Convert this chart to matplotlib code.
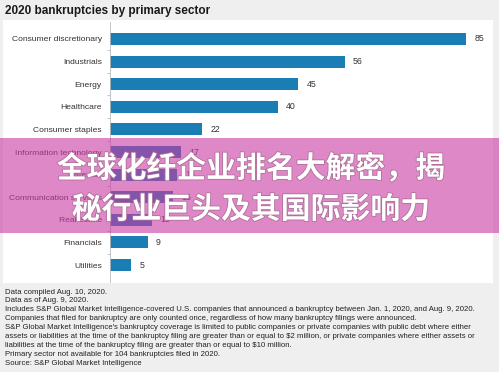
import matplotlib
matplotlib.use('Agg')
import matplotlib.pyplot as plt
from matplotlib.patches import Rectangle
import matplotlib.patheffects as pe

sectors = ['Consumer discretionary', 'Industrials', 'Energy', 'Healthcare',
           'Consumer staples', 'Information technology', 'Materials',
           'Communication services', 'Real estate', 'Financials', 'Utilities']
counts = [85, 56, 45, 40, 22, 17, 16, 15, 10, 9, 5]

notes = [
    'Data compiled Aug. 10, 2020.',
    'Data as of Aug. 9, 2020.',
    'Includes S&P Global Market Intelligence-covered U.S. companies that announced a bankruptcy between Jan. 1, 2020, and Aug. 9, 2020.',
    'Companies that filed for bankruptcy are only counted once, regardless of how many bankruptcy filings were announced.',
    "S&P Global Market Intelligence's bankruptcy coverage is limited to public companies or private companies with public debt where either",
    'assets or liabilities at the time of the bankruptcy filing are greater than or equal to $2 million, or private companies where either assets or',
    'liabilities at the time of the bankruptcy filing are greater than or equal to $10 million.',
    'Primary sector not available for 104 bankruptcies filed in 2020.',
    'Source: S&P Global Market Intelligence',
]
overlay = '全球化纤企业排名大解密，揭\n秘行业巨头及其国际影响力'

plt.rcParams['font.family'] = ['Liberation Sans', 'DejaVu Sans']

W, H = 499, 372
fig = plt.figure(figsize=(W / 100, H / 100), dpi=100)
fig.patch.set_facecolor('#efefef')

# white panel behind chart
fig.patches.append(Rectangle((3 / W, 1 - 283 / H), 490 / W, 263 / H,
                             transform=fig.transFigure, facecolor='white',
                             edgecolor='none', zorder=-1))

fig.text(5 / W, 1 - 11 / H, '2020 bankruptcies by primary sector',
         fontsize=8.5, fontweight='bold', color='#1a1a1a', va='center')

ax = fig.add_axes([110 / W, 1 - 282 / H, 380 / W, 260 / H])
ax.set_facecolor('none')
ax.set_zorder(1)
y = list(range(len(sectors)))
ax.barh(y, counts, height=0.53, color='#1a7db3')
ax.set_ylim(10.75, -0.75)
ax.set_xlim(0, 85 * 380 / 356)
ax.set_yticks(y)
ax.set_yticklabels(sectors, fontsize=6.1, color='#333333')
ax.set_yticks([i + 0.5 for i in y[:-1]], minor=True)
ax.tick_params(axis='y', which='major', length=0, pad=6)
ax.tick_params(axis='y', which='minor', length=2, color='#bbbbbb')
ax.set_xticks([])
for s in ['top', 'right', 'bottom']:
    ax.spines[s].set_visible(False)
ax.spines['left'].set_color('#bbbbbb')
ax.spines['left'].set_linewidth(0.6)
for yi, v in zip(y, counts):
    ax.text(v + 2, yi, str(v), fontsize=6.3, va='center', color='#333333')

for i, line in enumerate(notes):
    fig.text(5 / W, 1 - (292 + i * 8.9) / H, line, fontsize=5.6,
             color='#222222', va='center')

# pink band overlay
fig.patches.append(Rectangle((0, 1 - 233 / H), 1, 95 / H,
                             transform=fig.transFigure, facecolor='#cb39a3',
                             alpha=0.6, edgecolor='none', zorder=5))
t = fig.text(251 / W, 1 - 189 / H, overlay, fontsize=21.5, fontweight='bold',
             color='white', ha='center', va='center', linespacing=1.45,
             family=['Noto Sans CJK SC', 'DejaVu Sans'], zorder=6)
t.set_path_effects([pe.withStroke(linewidth=1.2, foreground='#b0709a')])

fig.savefig('out.png', dpi=100, facecolor=fig.get_facecolor())
